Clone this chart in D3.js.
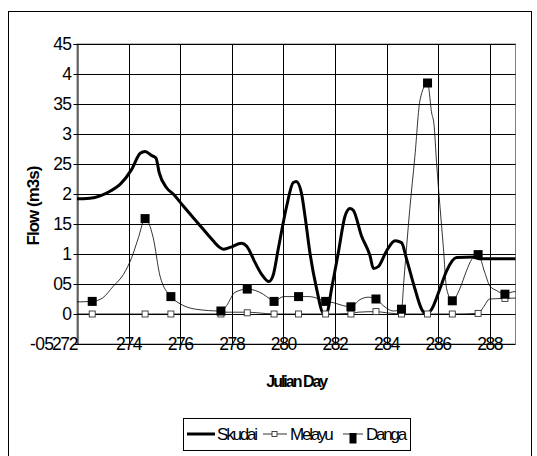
<!DOCTYPE html>
<html>
<head>
<meta charset="utf-8">
<script src="https://cdn.jsdelivr.net/npm/d3@7"></script>
<style>
  body { margin: 0; background: #fff; }
  svg { display: block; font-family: "Liberation Sans", Arial, sans-serif; }
</style>
</head>
<body>
<div id="chart"></div>
<script>
// values
const xTicks = [272, 274, 276, 278, 280, 282, 284, 286, 288];
const yTicks = [-0.5, 0, 0.5, 1, 1.5, 2, 2.5, 3, 3.5, 4, 4.5];

const skudai = [[271.5,1.92],[272.0,1.92],[272.5,1.93],[272.9,1.97],[273.3,2.05],[273.67,2.16],[274.12,2.41],[274.45,2.68],
  [274.64,2.71],[274.9,2.64],[275.06,2.6],[275.19,2.35],[275.48,2.1],[275.73,2.0],[276.12,1.8],[276.7,1.51],[277.28,1.22],
  [277.5,1.12],[277.67,1.08],[277.93,1.11],[278.38,1.18],[278.58,1.13],[278.9,0.86],[279.16,0.66],[279.44,0.54],[279.6,0.64],
  [279.8,1.08],[280.13,1.8],[280.38,2.19],[280.5,2.21],[280.7,2.02],[280.84,1.63],[281.03,1.02],[281.29,0.42],[281.55,0.02],
  [281.68,0.02],[281.87,0.42],[282.13,1.02],[282.39,1.63],[282.58,1.76],[282.71,1.73],[283.03,1.3],[283.36,0.97],[283.49,0.76],
  [283.68,0.79],[284.0,1.05],[284.33,1.22],[284.58,1.19],[284.78,0.91],[285.1,0.42],[285.36,0.08],[285.55,0.0],[285.75,0.08],
  [286.07,0.42],[286.33,0.72],[286.72,0.94],[287.36,0.95],[287.6,0.92],[289.5,0.92]];

const melayu = [[271.8,0],[272.59,0],[274.64,0],[275.64,0],[277.58,0],[277.75,0.03],[278.6,0.03],[279.0,0.02],[279.64,0],
  [280.59,0],[281.64,0],[282.62,0.01],[282.9,0.03],[283.59,0.04],[284.0,0.02],[284.58,0],[285.59,0],[286.55,0],[287.55,0.01],
  [287.75,0.11],[288.0,0.25],[288.59,0.26],[289.3,0.27]];

const danga = [[271.8,0.2],[272.59,0.21],[273.0,0.27],[273.4,0.46],[273.8,0.66],[274.12,0.94],[274.38,1.27],[274.64,1.59],
  [274.95,1.28],[275.22,0.63],[275.64,0.29],[276.0,0.17],[276.6,0.08],[277.58,0.05],[277.8,0.14],[278.12,0.36],[278.6,0.415],
  [279.22,0.33],[279.48,0.25],[279.64,0.21],[280.0,0.29],[280.59,0.29],[281.03,0.29],[281.64,0.21],[281.93,0.19],[282.32,0.14],
  [282.62,0.12],[282.97,0.24],[283.29,0.28],[283.59,0.25],[283.87,0.14],[284.26,0.05],[284.58,0.08],[284.68,0.6],[284.9,1.74],
  [285.1,2.63],[285.3,3.57],[285.59,3.85],[285.75,3.35],[285.84,3.16],[285.94,2.52],[286.07,1.8],[286.2,1.13],[286.33,0.42],
  [286.55,0.22],[286.84,0.42],[287.1,0.72],[287.3,0.91],[287.55,0.99],[287.81,0.69],[288.0,0.47],[288.27,0.39],[288.59,0.33],
  [288.9,0.37],[289.3,0.38]];

// sampled days that carry markers
const sampleDays = [272.59, 274.64, 275.64, 277.58, 278.6, 279.64, 280.59, 281.64, 282.62, 283.59, 284.58, 285.59, 286.55, 287.55, 288.59];
const melayuSample = [0, 0, 0, 0, 0.02, 0, 0, 0, 0, 0.04, 0, 0, 0, 0.01, 0.26];
const dangaSample = [0.21, 1.59, 0.29, 0.05, 0.415, 0.21, 0.29, 0.21, 0.12, 0.25, 0.08, 3.85, 0.22, 0.99, 0.33];

const width = 537, height = 456;
const plotL = 77, plotR = 515.5, plotT = 44, plotB = 344;

const svg = d3.select("#chart").append("svg")
  .attr("width", width)
  .attr("height", height);

// chart frame
svg.append("rect")
  .attr("x", 8.5).attr("y", 11.5)
  .attr("width", 523).attr("height", 460)
  .attr("fill", "none").attr("stroke", "#000");

const x = d3.scaleLinear().domain([272, 289]).range([plotL, plotR]);
const y = d3.scaleLinear().domain([-0.5, 4.5]).range([plotB, plotT]);

svg.append("defs").append("clipPath").attr("id", "plot")
  .append("rect")
  .attr("x", plotL).attr("y", plotT - 6)
  .attr("width", plotR - plotL).attr("height", plotB - plotT + 12);

// plot border
svg.append("rect")
  .attr("x", plotL).attr("y", plotT)
  .attr("width", plotR - plotL).attr("height", plotB - plotT)
  .attr("fill", "none").attr("stroke", "#808080");

// horizontal gridlines
svg.append("g").selectAll("line")
  .data(yTicks)
  .join("line")
  .attr("x1", plotL).attr("x2", plotR)
  .attr("y1", d => Math.round(y(d)) + 0.5).attr("y2", d => Math.round(y(d)) + 0.5)
  .attr("stroke", "#000");

// vertical gridlines
svg.append("g").selectAll("line")
  .data(xTicks.slice(1))
  .join("line")
  .attr("x1", d => Math.round(x(d)) + 0.5).attr("x2", d => Math.round(x(d)) + 0.5)
  .attr("y1", plotT).attr("y2", plotB)
  .attr("stroke", "#000");

// y axis
const yAxis = svg.append("g")
  .attr("transform", `translate(${plotL + 0.5},0)`)
  .call(d3.axisLeft(y).tickValues(yTicks).tickSize(4).tickPadding(2)
    .tickFormat(d => String(d).replace(".", "")));
yAxis.select(".domain").attr("stroke", "#000");
yAxis.selectAll("text")
  .attr("font-size", 17.5)
  .attr("font-family", "Liberation Sans, Arial, sans-serif")
  .attr("fill", "#000")
  .attr("letter-spacing", "-0.6px");
// the bottom label is pushed left by the first day label, as in the source
yAxis.selectAll(".tick").filter(d => d === yTicks[0]).select("text")
  .attr("x", -24);

// x tick labels sit on the bottom edge
svg.append("g").selectAll("text")
  .data(xTicks)
  .join("text")
  .attr("x", (d, i) => i === 0 ? plotL : x(d))
  .attr("y", plotB)
  .attr("dy", "0.36em")
  .attr("text-anchor", (d, i) => i === 0 ? "end" : "middle")
  .attr("font-size", 17.5)
  .attr("letter-spacing", "-1.4px")
  .text(d => d);

const plot = svg.append("g").attr("clip-path", "url(#plot)");

const line = d3.line()
  .x(d => x(d[0]))
  .y(d => y(d[1]))
  .curve(d3.curveMonotoneX);

plot.append("path")
  .datum(skudai)
  .attr("d", line)
  .attr("fill", "none")
  .attr("stroke", "#000")
  .attr("stroke-width", 3)
  .attr("stroke-linejoin", "round");

plot.append("path")
  .datum(melayu)
  .attr("d", line)
  .attr("fill", "none")
  .attr("stroke", "#000")
  .attr("stroke-width", 0.8);

plot.append("g").selectAll("rect")
  .data(sampleDays)
  .join("rect")
  .attr("x", d => x(d) - 3)
  .attr("y", (d, i) => y(melayuSample[i]) - 3)
  .attr("width", 6).attr("height", 6)
  .attr("fill", "#fff")
  .attr("stroke", "#333")
  .attr("stroke-width", 0.9);

plot.append("path")
  .datum(danga)
  .attr("d", line)
  .attr("fill", "none")
  .attr("stroke", "#000")
  .attr("stroke-width", 0.8);

plot.append("g").selectAll("rect")
  .data(sampleDays)
  .join("rect")
  .attr("x", d => x(d) - 4.5)
  .attr("y", (d, i) => y(dangaSample[i]) - 4.5)
  .attr("width", 9).attr("height", 9)
  .attr("fill", "#000");

// axis titles
svg.append("text")
  .attr("x", (plotL + plotR) / 2)
  .attr("y", 387)
  .attr("text-anchor", "middle")
  .attr("font-size", 16)
  .attr("font-weight", "bold")
  .attr("letter-spacing", "-2px")
  .text("Julian Day");

svg.append("text")
  .attr("transform", "translate(39,206) rotate(-90)")
  .attr("text-anchor", "middle")
  .attr("font-size", 17)
  .attr("font-weight", "bold")
  .attr("letter-spacing", "-1px")
  .text("Flow (m3s)");

// legend
const legend = svg.append("g");
legend.append("rect")
  .attr("x", 183.5).attr("y", 418.5)
  .attr("width", 227).attr("height", 32)
  .attr("fill", "#fff").attr("stroke", "#000");

const legendItems = [
  { name: "Skudai", x1: 187, x2: 215, tx: 217 },
  { name: "Melayu", x1: 263, x2: 287, tx: 290 },
  { name: "Danga", x1: 343, x2: 363, tx: 366 }
];
const ly = 434;

legend.selectAll("line")
  .data(legendItems)
  .join("line")
  .attr("x1", d => d.x1).attr("x2", d => d.x2)
  .attr("y1", ly).attr("y2", ly)
  .attr("stroke", "#000")
  .attr("stroke-width", (d, i) => i === 0 ? 3 : 0.8);

legend.append("rect")
  .attr("x", 272).attr("y", ly - 2.5)
  .attr("width", 5).attr("height", 5)
  .attr("fill", "#fff").attr("stroke", "#333").attr("stroke-width", 0.9);

legend.append("rect")
  .attr("x", 349.5).attr("y", ly - 1)
  .attr("width", 7).attr("height", 10.5)
  .attr("fill", "#000");

legend.selectAll("text")
  .data(legendItems)
  .join("text")
  .attr("x", d => d.tx)
  .attr("y", ly)
  .attr("dy", "0.36em")
  .attr("font-size", 17)
  .attr("letter-spacing", "-2.2px")
  .text(d => d.name);
</script>
</body>
</html>
